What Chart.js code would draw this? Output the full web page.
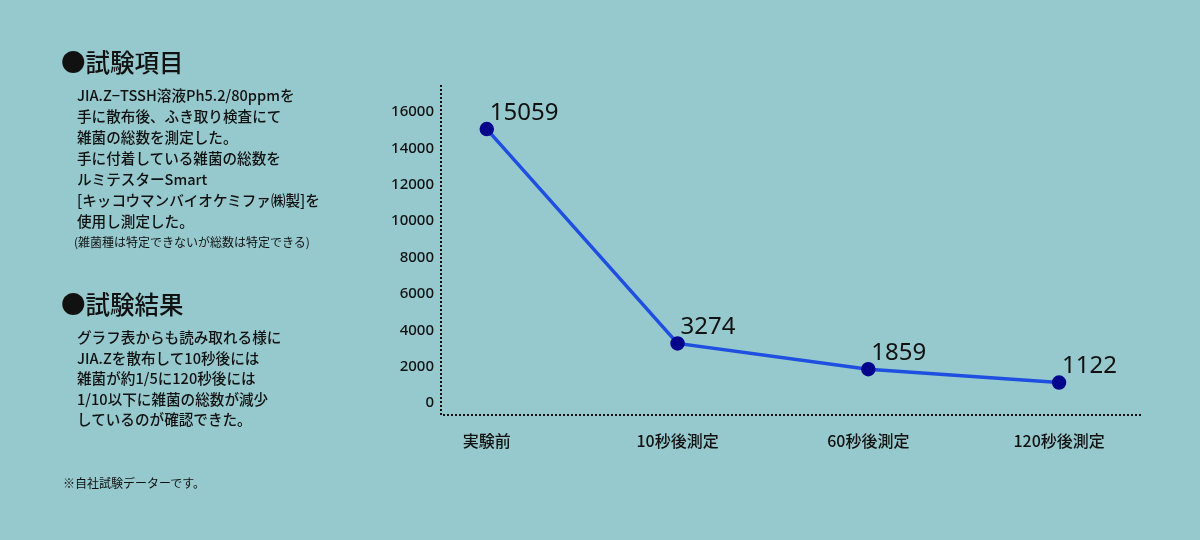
<!DOCTYPE html>
<html lang="ja">
<head>
<meta charset="utf-8">
<script src="https://cdn.jsdelivr.net/npm/chart.js@4"></script>
<style>
    html, body { margin: 0; padding: 0; }
    body {
        width: 1200px;
        height: 540px;
        background: #96c9cd;
        position: relative;
        overflow: hidden;
        font-family: "Noto Sans CJK JP", "Noto Sans", sans-serif;
        color: #111;
    }
    #chartWrap { position: absolute; left: 0; top: 0; width: 1200px; height: 540px; }
    .heading { position: absolute; left: 61px; font-size: 24.5px; line-height: 28px; font-weight: 500; }
    .body-text { position: absolute; left: 77px; font-size: 14.6px; line-height: 21px; font-weight: 500; }
    .small { position: absolute; left: 74px; font-size: 12px; line-height: 14px; }
    .note { position: absolute; left: 63px; font-size: 12px; line-height: 14px; }
</style>
</head>
<body>
<div id="chartWrap"><canvas id="resultChart" width="1200" height="540"></canvas></div>

<div class="heading" style="top:48px;">●試験項目</div>
<div class="body-text" style="top:84px;">
    JIA.Z−TSSH溶液Ph5.2/80ppmを<br>
    手に散布後、ふき取り検査にて<br>
    雑菌の総数を測定した。<br>
    手に付着している雑菌の総数を<br>
    ルミテスターSmart<br>
    [キッコウマンバイオケミファ㈱製]を<br>
    使用し測定した。
</div>
<div class="small" style="top:235px;">(雑菌種は特定できないが総数は特定できる)</div>

<div class="heading" style="top:290px;">●試験結果</div>
<div class="body-text" style="top:327px; line-height:20.5px;">
    グラフ表からも読み取れる様に<br>
    JIA.Zを散布して10秒後には<br>
    雑菌が約1/5に120秒後には<br>
    1/10以下に雑菌の総数が減少<br>
    しているのが確認できた。
</div>

<div class="note" style="top:476px;">※自社試験データーです。</div>

<script>
const categories = ['実験前', '10秒後測定', '60秒後測定', '120秒後測定'];
const bacteriaCounts = [15059, 3274, 1859, 1122];
const yTicks = [0, 2000, 4000, 6000, 8000, 10000, 12000, 14000, 16000];

document.addEventListener('DOMContentLoaded', function() {
    initResultChart();
});

// dotted axis lines (scale border can't be dashed)
const dottedAxes = {
    id: 'dottedAxes',
    beforeDatasetsDraw: function(chart) {
        const ctx = chart.ctx;
        const area = chart.chartArea;
        ctx.save();
        ctx.strokeStyle = '#111';
        ctx.lineWidth = 2;
        ctx.setLineDash([2, 2]);
        ctx.beginPath();
        ctx.moveTo(area.left, area.top);
        ctx.lineTo(area.left, area.bottom);
        ctx.lineTo(area.right, area.bottom);
        ctx.stroke();
        ctx.restore();
    }
};

// value labels drawn up-right of each point
const pointLabels = {
    id: 'pointLabels',
    afterDatasetsDraw: function(chart) {
        const ctx = chart.ctx;
        const meta = chart.getDatasetMeta(0);
        ctx.save();
        ctx.font = '24px "Noto Sans", "Open Sans", sans-serif';
        ctx.fillStyle = '#111';
        ctx.textAlign = 'left';
        ctx.textBaseline = 'bottom';
        meta.data.forEach(function(pt, i) {
            ctx.fillText(String(bacteriaCounts[i]), pt.x + 3, pt.y - 4);
        });
        ctx.restore();
    }
};

function initResultChart() {
    const ctx = document.getElementById('resultChart').getContext('2d');
    const resultChart = new Chart(ctx, {
        type: 'line',
        data: {
            datasets: [{
                data: bacteriaCounts.map(function(v, i) { return { x: i, y: v }; }),
                borderColor: '#1f4fe0',
                borderWidth: 3.5,
                pointBackgroundColor: '#06068c',
                pointBorderColor: '#06068c',
                pointRadius: 5.5,
                tension: 0,
                fill: false
            }]
        },
        options: {
            responsive: false,
            animation: false,
            layout: {
                padding: { left: 360, top: 85, right: 57, bottom: 0 }
            },
            plugins: {
                legend: { display: false },
                tooltip: { enabled: false }
            },
            scales: {
                x: {
                    type: 'linear',
                    min: -0.24,
                    max: 3.44,
                    afterBuildTicks: function(scale) {
                        scale.ticks = categories.map(function(c, i) { return { value: i }; });
                    },
                    afterFit: function(scale) { scale.height = 125; },
                    grid: { display: false, drawTicks: false },
                    border: { display: false },
                    ticks: {
                        padding: 16,
                        color: '#111',
                        font: { size: 16, weight: '500', family: '"Noto Sans CJK JP", "Noto Sans", sans-serif' },
                        callback: function(value) { return categories[value]; }
                    }
                },
                y: {
                    min: -660,
                    max: 17485,
                    afterBuildTicks: function(scale) {
                        scale.ticks = yTicks.map(function(v) { return { value: v }; });
                    },
                    afterFit: function(scale) { scale.width = 81; },
                    grid: { display: false, drawTicks: false },
                    border: { display: false },
                    ticks: {
                        padding: 7,
                        color: '#111',
                        font: { size: 15, weight: '500', family: '"Noto Sans", sans-serif' },
                        callback: function(value) { return String(value); }
                    }
                }
            }
        },
        plugins: [dottedAxes, pointLabels]
    });
}
</script>
</body>
</html>
